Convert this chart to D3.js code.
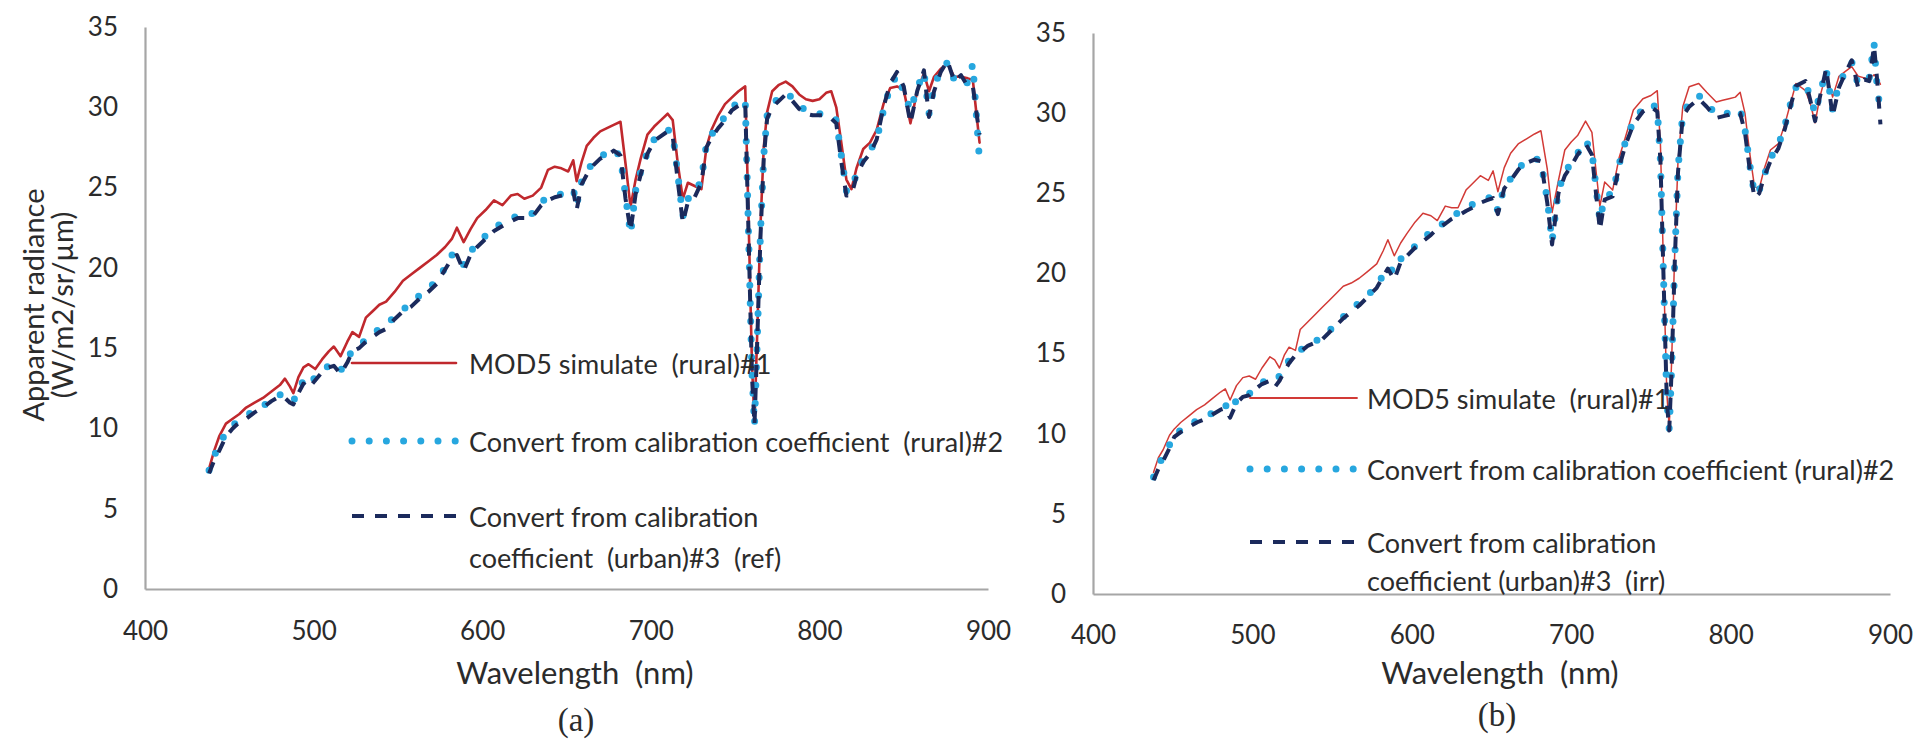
<!DOCTYPE html>
<html><head><meta charset="utf-8">
<script src="https://cdn.jsdelivr.net/npm/d3@7"></script>
<style>
html,body{margin:0;padding:0;background:#fff;}
svg{display:block;}
text{font-family:Lato,"Open Sans",sans-serif;fill:#2b2b2b;white-space:pre;}
</style></head><body>
<svg id="chart" width="1915" height="740"></svg>
<script>
// ---------- data ----------
const xTicks = [400, 500, 600, 700, 800, 900];
const yTicks = [0, 5, 10, 15, 20, 25, 30, 35];
const xTitle = "Wavelength  (nm)";
const yTitleLines = ["Apparent radiance", "(W/m2/sr/\u00b5m)"];
const panelLabels = ["(a)", "(b)"];
const legendA = ["MOD5 simulate  (rural)#1", "Convert from calibration coefficient  (rural)#2", ["Convert from calibration", "coefficient  (urban)#3  (ref)"]];
const legendB = ["MOD5 simulate  (rural)#1", "Convert from calibration coefficient (rural)#2", ["Convert from calibration", "coefficient (urban)#3  (irr)"]];

// panel (a)
const wavelengthA = [
 438,441,444,448,452,456,460,465,470,475,
 480,483,486,488,491,494,497,501,505,509,
 512,516,520,523,527,531,535,539,543,548,
 553,558,563,568,573,578,582,585,589,593,
 597,602,607,612,617,621,625,630,635,639,
 643,647,651,654,656,659,662,666,670,674,
 678,682,685,688,691,694,698,702,706,710,
 713,716,719,722,726,730,733,736,740,744,
 748,752,756,758,760,761.5,763,765,767,769,
 772,776,780,784,788,792,796,800,804,807,
 810,813,816,819,822,826,830,834,838,842,
 846,850,854,858,862,865,868,872,876,880,
 884,888,891,895];
const mod5A = [
 7.5,8.6,9.5,10.3,10.6,10.9,11.3,11.6,11.9,12.3,
 12.7,13.1,12.6,12.2,13.2,13.8,14.0,13.7,14.3,14.8,
 15.1,14.5,15.4,16.0,15.7,16.9,17.3,17.7,17.9,18.5,
 19.2,19.6,20.0,20.4,20.8,21.3,21.8,22.5,21.6,22.4,
 23.1,23.6,24.2,23.9,24.5,24.6,24.3,24.5,25.0,26.1,
 26.3,26.2,26.0,26.7,25.4,26.6,27.6,28.1,28.5,28.7,
 28.9,29.1,26.5,23.8,25.5,26.8,28.3,28.8,29.2,29.6,
 29.2,26.5,24.3,25.3,25.1,24.9,27.5,28.6,29.5,30.2,
 30.6,31.0,31.3,23.0,14.0,10.4,15.5,22.5,27.5,29.7,
 31.0,31.4,31.6,31.3,30.8,30.5,30.4,30.5,30.9,31.0,
 30.0,27.8,25.5,24.9,26.2,27.4,27.8,28.6,30.2,31.2,
 31.3,31.1,29.0,31.0,32.1,31.0,31.9,32.4,32.7,31.9,
 31.9,31.8,31.7,27.8];
const rural2A = [
 7.4,8.3,8.9,9.8,10.2,10.5,10.8,11.1,11.4,11.8,
 12.1,12.1,11.8,11.7,12.4,13.0,12.7,13.2,13.6,13.9,
 14.0,13.6,14.3,14.9,15.2,15.5,15.9,16.2,16.4,17.0,
 17.4,17.8,18.3,18.7,19.2,20.0,20.8,20.9,20.2,21.0,
 21.5,22.0,22.5,22.8,23.0,23.3,23.3,23.4,24.1,24.4,
 24.5,24.6,24.7,24.9,23.9,25.4,26.0,26.6,26.9,27.2,
 27.4,26.9,24.5,22.1,24.8,26.0,27.2,28.0,28.3,28.6,
 28.4,25.8,23.2,24.3,24.6,25.5,27.7,28.3,28.9,29.4,
 30.0,30.3,30.5,22.0,13.5,10.2,15.0,22.0,27.0,29.5,
 30.2,30.6,30.9,30.6,30.1,29.8,29.6,29.6,29.6,29.5,
 29.2,27.0,24.8,24.8,25.9,26.8,27.3,28.0,29.8,31.3,
 32.0,31.0,29.8,31.2,32.2,29.6,31.3,32.3,32.8,31.7,
 31.9,31.5,32.7,26.6];
const urban3A = [
 7.2,8.0,8.6,9.5,10.0,10.4,10.6,11.0,11.3,11.7,
 12.0,11.9,11.6,11.5,12.2,12.8,12.5,13.0,13.5,13.8,
 13.9,13.4,14.1,14.8,15.0,15.4,15.7,16.0,16.2,16.8,
 17.3,17.6,18.1,18.5,19.0,19.9,20.6,20.8,19.8,20.8,
 21.3,21.8,22.3,22.6,22.9,23.1,23.1,23.2,23.9,24.2,
 24.4,24.5,24.6,24.8,23.6,25.2,25.8,26.4,26.8,27.0,
 27.3,27.0,24.3,22.3,24.6,25.8,27.1,27.9,28.2,28.5,
 28.2,25.4,22.8,24.1,24.4,25.3,27.5,28.1,28.7,29.2,
 29.8,30.1,30.3,22.0,13.3,10.2,15.0,21.8,26.8,29.3,
 30.0,30.4,30.8,30.4,29.9,29.6,29.5,29.5,29.5,29.3,
 29.0,26.6,24.5,24.5,25.7,26.6,27.1,28.0,30.0,31.5,
 32.2,31.3,29.0,31.0,32.3,29.4,31.0,32.2,32.9,31.6,
 32.0,31.3,31.3,28.3];

// panel (b)
const wavelengthB = [
 438,441,444,448,451,455,460,465,470,475,
 480,483,486,490,494,498,502,506,511,514,
 517,520,523,527,530,535,540,544,548,553,
 557,562,567,572,578,582,585,589,593,597,
 602,607,612,616,621,625,629,634,638,643,
 648,651,654,658,662,667,672,677,681,685,
 688,692,696,700,704,709,713,716,718,721,
 726,730,734,739,745,750,754,756,758,760,
 761.5,763,765,767,770,774,780,785,791,795,
 799,803,806,809,812,815,818,821,825,830,
 834,837,841,847,850,853,856,860,864,868,
 872,876,880,884,887,890,892,894];
const mod5B = [
 7.6,8.5,9.0,9.9,10.3,10.7,11.1,11.5,11.8,12.2,
 12.6,12.8,12.1,13.0,13.5,13.6,13.4,14.1,14.8,14.6,
 14.1,14.9,15.4,15.2,16.5,17.0,17.5,17.9,18.3,18.8,
 19.2,19.4,19.7,20.1,20.6,21.4,22.1,21.1,21.9,22.5,
 23.2,23.75,23.6,23.3,24.2,24.1,24.1,25.2,25.6,26.1,
 25.8,26.4,25.1,26.6,27.5,28.1,28.4,28.7,28.9,26.5,
 23.8,25.8,27.7,28.2,28.6,29.5,28.8,26.0,24.2,25.7,
 25.2,27.2,28.5,30.2,30.9,31.1,31.4,28.0,20.0,12.5,
 10.4,14.5,21.5,27.0,30.4,31.65,31.85,31.3,30.7,30.8,
 30.9,31.0,31.3,30.0,27.5,25.4,25.3,26.5,27.7,28.1,
 29.3,30.4,31.85,31.4,30.6,29.4,31.0,32.5,31.0,32.3,
 32.6,32.9,32.3,32.2,32.1,32.4,32.2,31.8];
const rural2B = [
 7.3,8.0,8.6,9.3,10.0,10.2,10.6,10.8,11.0,11.3,
 11.6,11.8,11.4,12.1,12.5,12.5,12.9,13.2,13.4,13.3,
 13.6,14.0,14.6,15.0,15.2,15.6,15.8,16.0,16.4,16.9,
 17.3,17.7,18.2,18.6,19.2,19.9,20.4,20.1,20.9,21.3,
 21.7,22.2,22.6,22.9,23.2,23.5,23.8,24.0,24.3,24.5,
 24.7,24.8,23.9,25.4,25.9,26.6,27.0,27.2,27.0,24.6,
 22.0,25.2,26.3,26.9,27.5,28.3,27.6,25.0,23.3,24.8,
 25.0,26.8,28.2,29.5,30.3,30.6,30.3,27.0,19.5,12.0,
 10.3,14.0,21.0,26.5,30.0,30.6,31.1,30.6,29.9,30.0,
 30.0,30.2,30.2,29.0,26.8,24.9,25.2,26.1,27.2,28.0,
 29.2,30.4,31.6,31.85,31.0,30.0,31.2,32.7,30.2,31.8,
 32.6,33.2,31.8,32.0,32.2,34.35,31.5,30.2];
const urban3B = [
 7.1,7.8,8.3,9.1,9.8,10.1,10.4,10.7,10.9,11.2,
 11.5,11.6,11.0,11.9,12.3,12.4,12.8,13.1,13.3,12.9,
 13.3,13.9,14.4,14.9,15.1,15.5,15.7,15.9,16.3,16.8,
 17.2,17.6,18.0,18.5,19.1,19.8,20.3,19.6,20.7,21.1,
 21.6,22.0,22.4,22.8,23.1,23.4,23.6,23.9,24.1,24.4,
 24.6,24.7,23.7,25.3,25.8,26.5,26.9,27.1,27.0,24.4,
 21.8,25.0,26.1,26.7,27.4,28.1,27.4,24.6,22.7,24.6,
 24.8,26.6,28.0,29.3,30.1,30.4,30.1,27.0,19.5,12.0,
 10.2,14.0,20.8,26.3,29.8,30.4,30.9,30.4,29.7,29.8,
 29.9,30.1,30.0,28.8,26.5,24.7,25.0,26.0,27.0,27.8,
 29.0,30.2,31.7,32.0,30.8,29.5,31.0,32.8,29.8,31.6,
 32.5,33.3,31.6,32.1,32.0,34.2,32.0,29.3];

// ---------- layout / style ----------
const svg = d3.select("#chart");
const panels = [
  {wl: wavelengthA, series: [mod5A, rural2A, urban3A], legend: legendA, label: panelLabels[0],
   xr: [145, 988], yr: [589, 27], redW: 2.6, red: "#c0282d",
   tickPadX: 33, labelPos: [576, 720], titleX: 575,
   leg: {x1: 352, x2: 456, tx: 469, ys: [363, 441, 516], dy2: 41}, yTitle: true},
  {wl: wavelengthB, series: [mod5B, rural2B, urban3B], legend: legendB, label: panelLabels[1],
   xr: [1093, 1890], yr: [594, 33], redW: 1.5, red: "#d23a36",
   tickPadX: 32, labelPos: [1497, 715], titleX: 1500,
   leg: {x1: 1250, x2: 1357, tx: 1367, ys: [398, 469, 542], dy2: 38}, yTitle: false}
];
const styles = [
  {dash: null, cap: "round"},
  {color: "#27a7df", w: 7, dash: "0 18", cap: "round"},
  {color: "#1b2a5c", w: 4, dash: "12 11", cap: "butt"}
];

panels.forEach(p => {
  const x = d3.scaleLinear().domain([400, 900]).range(p.xr);
  const y = d3.scaleLinear().domain([0, 35]).range(p.yr);

  const gy = svg.append("g").attr("transform", `translate(${p.xr[0]},0)`)
    .call(d3.axisLeft(y).tickValues(yTicks).tickSize(0).tickSizeOuter(0).tickPadding(27));
  const gx = svg.append("g").attr("transform", `translate(0,${p.yr[0]})`)
    .call(d3.axisBottom(x).tickValues(xTicks).tickSize(0).tickSizeOuter(0).tickPadding(p.tickPadX));
  [gy, gx].forEach(g => {
    g.select(".domain").attr("stroke", "#a6a6a6").attr("stroke-width", 2.2);
    g.selectAll("text").style("font-family", "Lato").style("font-size", "26px").attr("fill", "#3a3a3a");
  });

  const line = (vals) => d3.line().x((d, i) => x(p.wl[i])).y(d => y(d))(vals);
  p.series.forEach((vals, k) => {
    const s = styles[k];
    svg.append("path").attr("d", line(vals)).attr("fill", "none")
      .attr("stroke", k === 0 ? p.red : s.color)
      .attr("stroke-width", k === 0 ? p.redW : s.w)
      .attr("stroke-dasharray", s.dash)
      .attr("stroke-linecap", s.cap)
      .attr("stroke-linejoin", "round");
  });

  // legend
  p.legend.forEach((lab, k) => {
    const s = styles[k];
    const ly = p.leg.ys[k];
    svg.append("line").attr("x1", p.leg.x1).attr("x2", p.leg.x2).attr("y1", ly).attr("y2", ly)
      .attr("stroke", k === 0 ? p.red : s.color)
      .attr("stroke-width", k === 0 ? Math.max(p.redW, 1.8) : s.w)
      .attr("stroke-dasharray", k === 1 ? "0 17.2" : s.dash)
      .attr("stroke-linecap", s.cap);
    const lines = Array.isArray(lab) ? lab : [lab];
    lines.forEach((t, j) => {
      svg.append("text").attr("x", p.leg.tx).attr("y", ly + j * p.leg.dy2)
        .attr("dominant-baseline", "central").style("font-size", "27px").text(t);
    });
  });

  // x title
  svg.append("text").attr("x", p.titleX).attr("y", 672).attr("text-anchor", "middle")
    .attr("dominant-baseline", "central").style("font-size", "31px").text(xTitle);
  // panel label
  svg.append("text").attr("x", p.labelPos[0]).attr("y", p.labelPos[1]).attr("text-anchor", "middle")
    .attr("dominant-baseline", "central").style("font-family", "'Liberation Serif',serif")
    .style("font-size", "33px").text(p.label);

  if (p.yTitle) {
    const cy = 305;
    yTitleLines.forEach((t, j) => {
      svg.append("text").attr("transform", `translate(${32 + j * 29},${cy}) rotate(-90)`)
        .attr("text-anchor", "middle").attr("dominant-baseline", "central")
        .style("font-size", "29px").text(t);
    });
  }
});
</script>
</body></html>
